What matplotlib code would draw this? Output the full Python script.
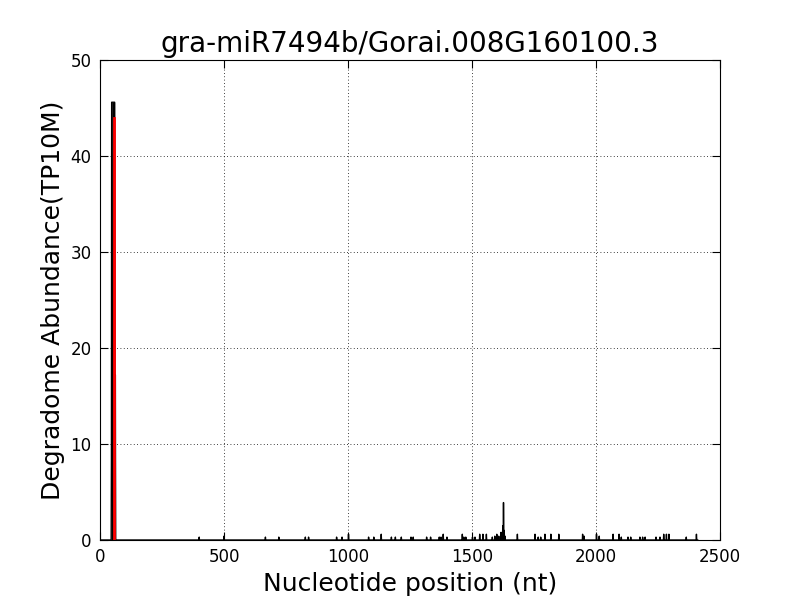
import numpy as np
import matplotlib.pyplot as plt

# transcript length and degradome reads (position, abundance in TP10M)
length = 2410
pos = [46, 47, 48, 49, 50, 51, 52, 53, 54, 55, 56, 57, 58, 59, 60, 61, 62,
       400, 500, 667, 721, 828, 841, 954, 976, 1002, 1083, 1104, 1134,
       1175, 1191, 1215, 1254, 1263, 1317, 1333, 1368, 1375, 1384, 1399,
       1461, 1467, 1475, 1502, 1512, 1531, 1544, 1558,
       1582, 1592, 1600, 1608, 1617, 1621, 1624, 1627, 1630, 1633,
       1683, 1754, 1767, 1777, 1794, 1818, 1850, 1946, 1952,
       2002, 2013, 2069, 2093, 2102, 2129, 2140, 2177, 2188, 2198,
       2242, 2258, 2273, 2284, 2294, 2364, 2405]
abund = [8.2, 45.6, 45.6, 45.6, 45.6, 45.6, 45.6, 45.6, 45.6, 45.6, 45.6,
         45.6, 45.6, 45.6, 17.2, 17.2, 17.2,
         0.3, 0.4, 0.3, 0.3, 0.3, 0.3, 0.3, 0.3, 0.6, 0.3, 0.3, 0.6,
         0.3, 0.3, 0.3, 0.3, 0.3, 0.3, 0.3, 0.3, 0.3, 0.6, 0.3,
         0.6, 0.3, 0.3, 0.3, 0.3, 0.6, 0.6, 0.6,
         0.3, 0.4, 0.6, 0.4, 0.8, 0.5, 1.5, 3.9, 1.0, 0.4,
         0.6, 0.6, 0.3, 0.3, 0.6, 0.6, 0.6, 0.6, 0.4,
         0.6, 0.4, 0.6, 0.6, 0.3, 0.3, 0.3, 0.3, 0.3, 0.3,
         0.3, 0.3, 0.6, 0.6, 0.6, 0.3, 0.6]

# predicted cleavage site
site = 56
site_abund = 44.0

x = np.arange(1, length + 1)
y = np.zeros(length)
for p, a in zip(pos, abund):
    y[p - 1] = a

fig = plt.figure(figsize=(8, 6), dpi=100)
ax = fig.add_axes([0.125, 0.1, 0.775, 0.8])
ax.fill_between(x, y, color="k", lw=0)
ax.plot(x, y, "k-", lw=1)
ax.plot([site, site], [0, site_abund], "r-", lw=2)

ax.set_xlim(0, 2500)
ax.set_ylim(0, 50)
ax.set_xticks([0, 500, 1000, 1500, 2000, 2500])
ax.set_yticks([0, 10, 20, 30, 40, 50])
ax.tick_params(direction="in", top=True, right=True, labelsize=12, length=6, pad=6)
ax.grid(True, color="k", linestyle=(0, (1, 3)), linewidth=0.6)
ax.set_title("gra-miR7494b/Gorai.008G160100.3", fontsize=20)
ax.set_xlabel("Nucleotide position (nt)", fontsize=18)
ax.set_ylabel("Degradome Abundance(TP10M)", fontsize=18)

fig.savefig("out.png")
